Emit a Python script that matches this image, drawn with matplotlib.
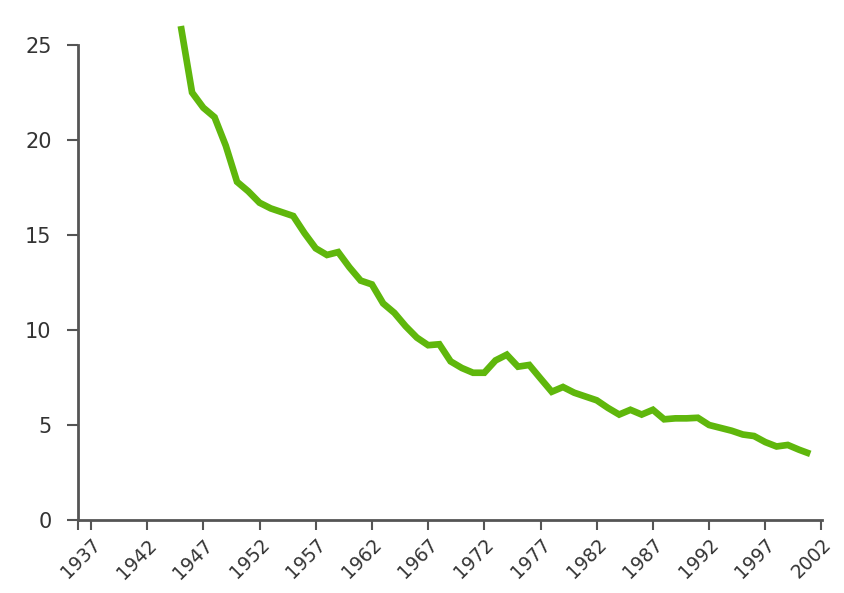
import matplotlib
matplotlib.use('Agg')
import matplotlib.pyplot as plt

# yearly values
years = list(range(1945, 2002))
values = [26.0, 22.5, 21.7, 21.2, 19.7, 17.8, 17.3, 16.7, 16.4, 16.2,
          16.0, 15.1, 14.3, 13.95, 14.1, 13.3, 12.6, 12.4, 11.4, 10.9,
          10.2, 9.6, 9.2, 9.25, 8.35, 8.0, 7.75, 7.75, 8.4, 8.7,
          8.07, 8.16, 7.45, 6.75, 7.0, 6.7, 6.5, 6.3, 5.9, 5.55,
          5.8, 5.55, 5.8, 5.3, 5.35, 5.35, 5.38, 5.0, 4.85, 4.7,
          4.5, 4.42, 4.1, 3.87, 3.95, 3.7, 3.48]

x_ticks = list(range(1937, 2003, 5))
y_ticks = [0, 5, 10, 15, 20, 25]

axis_col = '#555555'
text_col = '#333333'
line_col = '#5fb70c'

fig = plt.figure(figsize=(8.44, 5.93), dpi=100)
ax = fig.add_axes([0.0924, 0.1231, 0.8816, 0.801])

ax.plot(years, values, color=line_col, linewidth=4.8, solid_joinstyle='miter',
        solid_capstyle='butt', clip_on=False, zorder=3)

x0 = 1935.85
ax.set_xlim(x0, 2002.05)
ax.set_ylim(0, 25)
ax.set_xticks(x_ticks)
ax.set_xticks([x0], minor=True)
ax.set_yticks(y_ticks)
ax.set_xticklabels([str(y) for y in x_ticks], rotation=45, ha='right', va='top',
                   rotation_mode='anchor')

for side in ['top', 'right']:
    ax.spines[side].set_visible(False)
for side in ['left', 'bottom']:
    ax.spines[side].set_color(axis_col)
    ax.spines[side].set_linewidth(2)

ax.tick_params(axis='y', direction='out', length=8, width=1.5, color=axis_col,
               pad=11, labelsize=15, labelcolor=text_col)
ax.tick_params(axis='x', which='both', direction='out', length=7, width=1.5,
               color=axis_col, pad=4, labelsize=13.5, labelcolor=text_col)

plt.savefig('out.png', dpi=100)
